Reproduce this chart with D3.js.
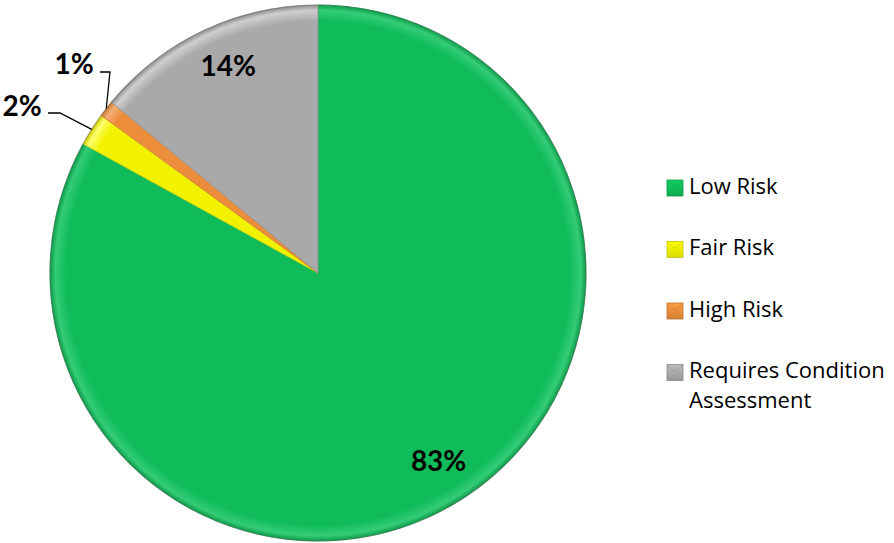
<!DOCTYPE html>
<html>
<head>
<meta charset="utf-8">
<script src="https://cdn.jsdelivr.net/npm/d3@7"></script>
<style>
  html, body { margin: 0; padding: 0; background: #fff; }
  svg { display: block; }
</style>
</head>
<body>
<svg id="chart" width="894" height="543"></svg>
<script>
// Share of assets by risk category
const categories = ["Low Risk", "Fair Risk", "High Risk", "Requires Condition Assessment"];
const legendLines = [["Low Risk"], ["Fair Risk"], ["High Risk"], ["Requires Condition", "Assessment"]];
const values = [83, 2, 1, 14];
const percentLabels = ["83%", "2%", "1%", "14%"];
const colors = ["#10bc59", "#f2f200", "#ec8d3c", "#a9a9a9"];
const rimColors = ["#34cc77", "#ffff70", "#f5ae76", "#cfcfcf"];

const svg = d3.select("#chart");
const cx = 318, cy = 273, R = 268;

const defs = svg.append("defs");
colors.forEach((c, i) => {
  const g = defs.append("radialGradient")
    .attr("id", "grad" + i)
    .attr("gradientUnits", "userSpaceOnUse")
    .attr("cx", 0).attr("cy", 0).attr("r", R);
  g.append("stop").attr("offset", "0%").attr("stop-color", c);
  g.append("stop").attr("offset", "94%").attr("stop-color", c);
  g.append("stop").attr("offset", "98%").attr("stop-color", rimColors[i]);
  g.append("stop").attr("offset", "100%").attr("stop-color", d3.color(c).darker(0.5));
});

const pie = d3.pie().sort(null).value(d => d);
const arcs = pie(values);
const arc = d3.arc().innerRadius(0).outerRadius(R);

const g = svg.append("g").attr("transform", `translate(${cx},${cy})`);

g.selectAll("path.slice")
  .data(arcs)
  .join("path")
  .attr("class", "slice")
  .attr("d", arc)
  .attr("fill", (d, i) => `url(#grad${i})`)
  .attr("stroke", (d, i) => d3.color(colors[i]).darker(0.35))
  .attr("stroke-width", 0.8)
  .attr("stroke-linejoin", "round");

// Outer rim shade
g.append("circle")
  .attr("r", R)
  .attr("fill", "none")
  .attr("stroke", "rgba(80,80,80,0.4)")
  .attr("stroke-width", 1.2);

const labelFont = "Lato, 'Open Sans', sans-serif";

// Labels inside the large slices
const inner = d3.arc().innerRadius(R * 0.84).outerRadius(R * 0.84);
const innerShift = { 0: [6, -7], 3: [6, -4] };
[0, 3].forEach(i => {
  const [x, y] = inner.centroid(arcs[i]);
  g.append("text")
    .attr("x", x + innerShift[i][0]).attr("y", y + innerShift[i][1])
    .attr("text-anchor", "middle")
    .attr("dominant-baseline", "central")
    .attr("font-family", labelFont)
    .attr("font-weight", "bold")
    .attr("font-size", 28)
    .attr("fill", "#000")
    .text(percentLabels[i]);
});

// Outside labels with leader lines for the thin slices
const outer = d3.arc().innerRadius(R).outerRadius(R);
const small = [
  { i: 1, elbow: [-258, -160], end: [-270, -160], text: [-296, -168] },
  { i: 2, elbow: [-208, -201], end: [-218, -201], text: [-244, -210] }
];
small.forEach(s => {
  const [px, py] = outer.centroid(arcs[s.i]);
  g.append("path")
    .attr("d", d3.line()([[px, py], s.elbow, s.end]))
    .attr("fill", "none")
    .attr("stroke", "#000")
    .attr("stroke-width", 1.3);
  g.append("text")
    .attr("x", s.text[0]).attr("y", s.text[1])
    .attr("text-anchor", "middle")
    .attr("dominant-baseline", "central")
    .attr("font-family", labelFont)
    .attr("font-weight", "bold")
    .attr("font-size", 28)
    .attr("fill", "#000")
    .text(percentLabels[s.i]);
});

// Legend
const legend = svg.append("g").attr("transform", "translate(667,180)");
const rowGap = 61.5;
categories.forEach((c, i) => {
  const row = legend.append("g").attr("transform", `translate(0,${i * rowGap})`);
  const lg = defs.append("linearGradient").attr("id", "lg" + i)
    .attr("x1", 0).attr("y1", 0).attr("x2", 0).attr("y2", 1);
  lg.append("stop").attr("offset", "0%").attr("stop-color", d3.color(colors[i]).brighter(0.3));
  lg.append("stop").attr("offset", "100%").attr("stop-color", d3.color(colors[i]).darker(0.3));
  row.append("rect")
    .attr("x", 0).attr("y", 0)
    .attr("width", 16).attr("height", 16)
    .attr("fill", `url(#lg${i})`)
    .attr("stroke", d3.color(colors[i]).darker(0.6))
    .attr("stroke-width", 0.8);
  row.append("path")
    .attr("d", "M1,1 L8,7 L15,1")
    .attr("fill", "none")
    .attr("stroke", d3.color(colors[i]).darker(0.5))
    .attr("stroke-width", 0.8)
    .attr("opacity", 0.7);
  legendLines[i].forEach((t, k) => {
    row.append("text")
      .attr("x", 22).attr("y", 13.5 + k * 30)
      .attr("font-family", "'Open Sans', Lato, sans-serif")
      .attr("font-size", 22)
      .attr("fill", "#000")
      .text(t);
  });
});
</script>
</body>
</html>
